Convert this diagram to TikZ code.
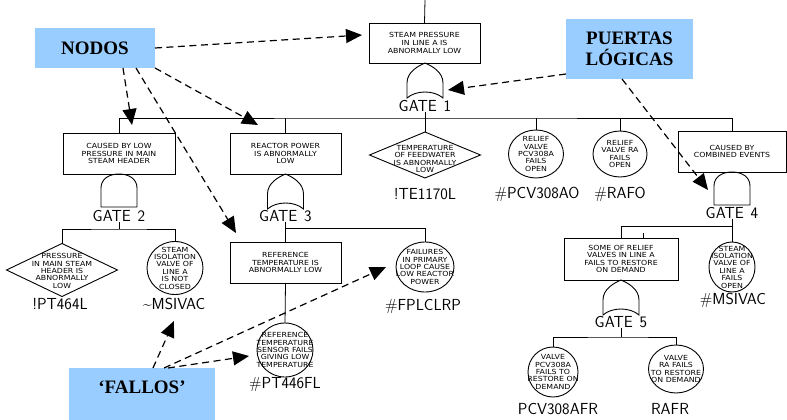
\documentclass[tikz,border=0pt]{standalone}
\usepackage{fontspec}
\setmainfont{Liberation Serif}
\newfontfamily\evfont{DejaVu Sans}[FakeStretch=1.12]
\usetikzlibrary{shapes.geometric,arrows.meta,calc}
\definecolor{tagblue}{RGB}{153,204,255}

% fault-tree gate symbols, drawn from the top point downwards
\tikzset{
  gateline/.style={line width=0.9pt},
  orgate/.pic={
    \draw[gateline] (-18,35) -- (-18,20) .. controls (-18,9) and (-7,3) .. (0,0)
      .. controls (7,3) and (18,9) .. (18,20) -- (18,35)
      .. controls (9,27) and (-9,27) .. (-18,35) -- cycle;
  },
  andgate/.pic={
    \draw[gateline] (-18,33) -- (-18,14) .. controls (-18,5) and (-10,0) .. (0,0)
      .. controls (10,0) and (18,5) .. (18,14) -- (18,33) -- cycle;
  }
}

\begin{document}
\begin{tikzpicture}[x=1pt,y=-1pt,
  every node/.style={inner sep=0pt,outer sep=0pt},
  wire/.style={line width=0.8pt},
  evbox/.style={draw,line width=0.9pt,rectangle,minimum width=111pt,minimum height=41pt,
    align=center,font=\evfont\fontsize{7}{7.6}\selectfont},
  evcirc/.style={draw,line width=0.9pt,ellipse},
  evdiam/.style={draw,line width=0.9pt,diamond},
  evtxt/.style={align=center,font=\evfont\fontsize{7}{7.4}\selectfont},
  idlab/.style={font=\sffamily\fontsize{16}{16}\selectfont},
  tagbox/.style={fill=tagblue,rectangle},
  tagtxt/.style={font=\bfseries\fontsize{19}{21}\selectfont,align=center},
  tagarrow/.style={line width=1.2pt,dash pattern=on 7pt off 4.5pt,
    -{Triangle[length=16pt,width=14pt]}}
]
\useasboundingbox (0,0) rectangle (787,420);

% ---------- tag boxes ----------
\node[tagbox,minimum width=120pt,minimum height=40pt] (nodos) at (95,48) {};
\node[tagtxt] at (nodos) {NODOS};
\node[tagbox,minimum width=127pt,minimum height=60pt] (puertas) at (629.5,49) {};
\node[tagtxt] at (puertas) {PUERTAS\\LÓGICAS};
\node[tagbox,minimum width=146pt,minimum height=52pt] (fallos) at (142,394) {};
\node[tagtxt] at ($(fallos.center)+(0,-7)$) {‘FALLOS’};

% ---------- top event and gate 1 ----------
\coordinate (topin) at (425,0);
\node[evbox,minimum width=111pt,minimum height=40pt] (top) at (424.5,43) {STEAM PRESSURE\\IN LINE A IS\\ABNORMALLY LOW};
\draw[wire] (topin) -- (top.north);
\pic at (425,63) {orgate};
\node[idlab] (g1l) at (425,106) {GATE\hspace{7pt}1};
\coordinate (b1) at (425,118);

\node[evbox,minimum width=112pt] (c1) at (119,153.5) {CAUSED BY LOW\\PRESSURE IN MAIN\\STEAM HEADER};
\node[evbox] (c2) at (285.5,153.5) {REACTOR POWER\\IS ABNORMALLY\\LOW};
\node[evdiam,minimum width=111pt,minimum height=46pt] (te) at (425,155) {};
\node[evtxt] at (425,159) {TEMPERATURE\\OF FEEDWATER\\IS ABNORMALLY\\LOW};
\node[evcirc,minimum width=55pt,minimum height=48pt] (pcvao) at (536,154) {};
\node[evtxt] at (pcvao) {RELIEF\\VALVE\\PCV308A\\FAILS\\OPEN};
\node[evcirc,minimum width=54pt,minimum height=46pt] (rafo) at (620,154) {};
\node[evtxt] at (rafo) {RELIEF\\VALVE RA\\FAILS\\OPEN};
\node[evbox,minimum width=108pt] (c4) at (732,151.5) {CAUSED BY\\COMBINED EVENTS};

\node[idlab] (tel) at (425,194) {!TE1170L};
\node[idlab] (pcvaol) at (537,194) {\#PCV308AO};
\node[idlab] (rafol) at (620,194) {\#RAFO};

\draw[wire] (g1l.south) -- (b1);
\draw[wire] (c1.north) |- (b1) -| (c4.north);
\draw[wire] (c2.north) -- (c2.north |- b1);
\draw[wire] (te.north) -- (te.north |- b1);
\draw[wire] (pcvao.north) -- (pcvao.north |- b1);
\draw[wire] (rafo.north) -- (rafo.north |- b1);

% ---------- gate 2 ----------
\pic at (119,174) {andgate};
\node[idlab] (g2l) at (119,216) {GATE\hspace{7pt}2};
\coordinate (b2) at (119,229);
\node[evdiam,minimum width=111pt,minimum height=53pt] (pt464) at (62,270) {};
\node[evtxt] at (62,271) {PRESSURE\\IN MAIN STEAM\\HEADER IS\\ABNORMALLY\\LOW};
\node[evcirc,minimum width=56pt,minimum height=53pt] (ms1) at (175,268) {};
\node[evtxt] at (ms1) {STEAM\\ISOLATION\\VALVE OF\\LINE A\\IS NOT\\CLOSED};
\node[idlab] (pt464l) at (60,304) {!PT464L};
\node[idlab] (ms1l) at (174,304) {\textasciitilde MSIVAC};
\draw[wire] (g2l.south) -- (b2);
\draw[wire] (pt464.north) |- (b2) -| (ms1.north);

% ---------- gate 3 ----------
\pic at (285.5,174) {orgate};
\node[idlab] (g3l) at (285.5,216) {GATE\hspace{7pt}3};
\coordinate (b3) at (285.5,228);
\node[evbox] (c6) at (285.5,262.5) {REFERENCE\\TEMPERATURE IS\\ABNORMALLY LOW};
\node[evcirc,minimum width=58pt,minimum height=50pt] (fp) at (425,267) {};
\node[evtxt] at (fp) {FAILURES\\IN PRIMARY\\LOOP CAUSE\\LOW REACTOR\\POWER};
\node[idlab] (fpl) at (423,306) {\#FPLCLRP};
\node[evcirc,minimum width=56pt,minimum height=54pt] (pt446) at (285,350) {};
\node[evtxt] at (pt446) {REFERENCE\\TEMPERATURE\\SENSOR FAILS\\GIVING LOW\\TEMPERATURE};
\node[idlab] (pt446l) at (285,385) {\#PT446FL};
\draw[wire] (g3l.south) -- (b3);
\draw[wire] (c6.north) |- (b3) -| (fp.north);
\draw[wire] (c6.south) -- (pt446.north);

% ---------- gate 4 ----------
\pic at (732,172) {andgate};
\node[idlab] (g4l) at (732,213) {GATE\hspace{7pt}4};
\coordinate (b4) at (732,226);
\node[evbox,minimum width=114pt,minimum height=42pt] (c5) at (621,259) {SOME OF RELIEF\\VALVES IN LINE A\\FAILS TO RESTORE\\ON DEMAND};
\node[evcirc,minimum width=46pt,minimum height=50pt] (ms2) at (732,267) {};
\node[evtxt] at (ms2) {STEAM\\ISOLATION\\VALVE OF\\LINE A\\FAILS\\OPEN};
\node[idlab] (ms2l) at (733,300) {\#MSIVAC};
\draw[wire] (g4l.south) -- (b4);
\draw[wire] (c5.north) |- (b4) -| (ms2.north);
\draw[wire] ($(c5.north)+(22,0)$) -- ++(0,-5);

% ---------- gate 5 ----------
\pic at (621,280) {orgate};
\node[idlab] (g5l) at (621,322) {GATE\hspace{7pt}5};
\coordinate (b5) at (621,337);
\node[evcirc,minimum width=50pt,minimum height=50pt] (pcvfr) at (553,372) {};
\node[evtxt] at (pcvfr) {VALVE\\PCV308A\\FAILS TO\\RESTORE ON\\DEMAND};
\node[evcirc,minimum width=55pt,minimum height=48pt] (rafr) at (676,369) {};
\node[evtxt] at (rafr) {VALVE\\RA FAILS\\TO RESTORE\\ON DEMAND};
\node[idlab] (pcvfrl) at (558,409) {PCV308AFR};
\node[idlab] (rafrl) at (670,409) {RAFR};
\draw[wire] (g5l.south) -- (b5);
\draw[wire] (pcvfr.north) |- (b5) -| (rafr.north);

% ---------- pointer arrows ----------
\coordinate (a1) at (362,35);
\coordinate (a2) at (132,125);
\coordinate (a3) at (236,233);
\coordinate (a4) at (258,125);
\coordinate (a5) at (448,90);
\coordinate (a6) at (708,190);
\coordinate (a7) at (174,321);
\coordinate (a8) at (386,267);
\coordinate (a9) at (249,356);
\draw[tagarrow] (nodos.east) -- (a1);
\draw[tagarrow] ($(nodos.south west)+(88,0)$) -- (a2);
\draw[tagarrow] ($(nodos.south west)+(101,0)$) -- (a3);
\draw[tagarrow] (nodos.south east) -- (a4);
\draw[tagarrow] ($(puertas.west)+(0,25)$) -- (a5);
\draw[tagarrow] ($(puertas.south west)+(56,0)$) -- (a6);
\draw[tagarrow] ($(fallos.north west)+(84,0)$) -- (a7);
\draw[tagarrow] ($(fallos.north west)+(95,0)$) -- (a8);
\draw[tagarrow] ($(fallos.north west)+(99,0)$) -- (a9);
\end{tikzpicture}
\end{document}
